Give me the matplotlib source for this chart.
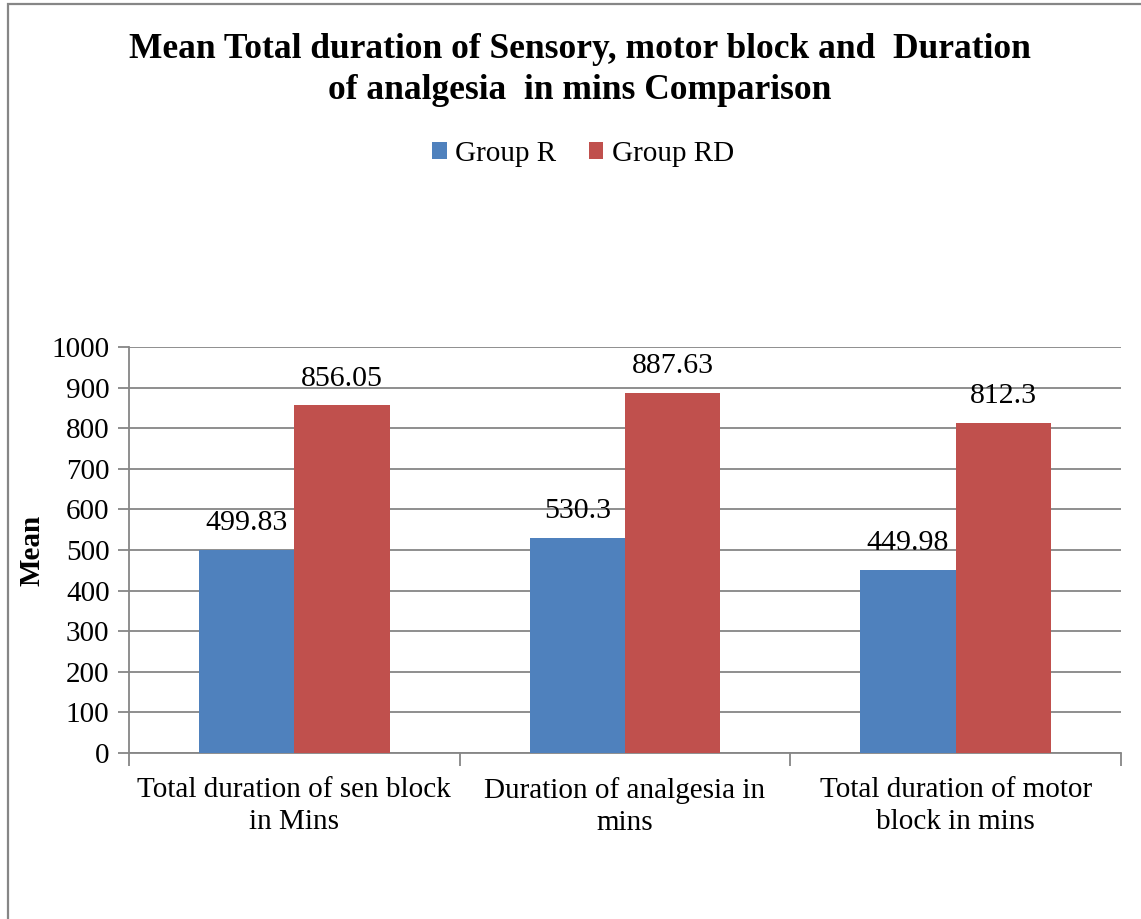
import matplotlib.pyplot as plt
import numpy as np
from matplotlib.patches import Rectangle

categories = ["Total duration of sen block\nin Mins",
              "Duration of analgesia in\nmins",
              "Total duration of motor\nblock in mins"]
group_r = [499.83, 530.3, 449.98]
group_rd = [856.05, 887.63, 812.3]
r_labels = ["499.83", "530.3", "449.98"]
rd_labels = ["856.05", "887.63", "812.3"]

plt.rcParams['font.family'] = ['Liberation Serif', 'DejaVu Serif']

W, H = 1141, 919
fig = plt.figure(figsize=(W / 100, H / 100), dpi=100)
ax = fig.add_axes([129 / W, 1 - 753 / H, (1121 - 129) / W, (753 - 347) / H])

blue = '#4F81BD'
red = '#C0504D'
grey = '#868686'
fs = 21

x = np.arange(len(categories))
bw = 0.288
b1 = ax.bar(x - bw / 2, group_r, bw, color=blue, label='Group R', zorder=3)
b2 = ax.bar(x + bw / 2, group_rd, bw, color=red, label='Group RD', zorder=3)

for bars, labs in ((b1, r_labels), (b2, rd_labels)):
    for b, t in zip(bars, labs):
        ax.annotate(t, (b.get_x() + b.get_width() / 2, b.get_height()),
                    xytext=(0, 10), textcoords='offset points',
                    ha='center', va='bottom', fontsize=fs + 0.5)

ax.set_xlim(-0.5, 2.5)
ax.set_ylim(0, 1000)
ax.set_yticks(range(0, 1001, 100))
ax.yaxis.grid(True, color=grey, linewidth=1.3, zorder=0)
ax.tick_params(axis='y', labelsize=fs, length=8, width=1.3, color=grey, pad=6)

# category ticks sit on the boundaries, labels in the middle
ax.set_xticks([-0.5, 0.5, 1.5, 2.5])
ax.set_xticklabels([])
ax.tick_params(axis='x', length=9, width=1.3, color=grey)
ax.set_xticks(x, minor=True)
ax.set_xticklabels(categories, minor=True, fontsize=fs, linespacing=1.32)
ax.tick_params(axis='x', which='minor', length=0, pad=17)

for side in ('top', 'right'):
    ax.spines[side].set_visible(False)
for side in ('left', 'bottom'):
    ax.spines[side].set_color(grey)
    ax.spines[side].set_linewidth(1.3)

ax.set_ylabel('Mean', fontsize=fs, fontweight='bold', labelpad=4)

fig.text(580 / W, 1 - 70 / H,
         "Mean Total duration of Sensory, motor block and  Duration\n"
         "of analgesia  in mins Comparison",
         ha='center', va='center', fontsize=25.5, fontweight='bold',
         linespacing=1.3)

fig.legend(handles=[b1, b2], loc='center', bbox_to_anchor=(583 / W, 1 - 154 / H),
           ncol=2, frameon=False, fontsize=fs, handlelength=0.5,
           handleheight=0.5, handletextpad=0.3, columnspacing=1.1)

# outer chart frame
fig.patches.append(Rectangle((8 / W, -0.05), 1.2, 1 - 4 / H + 0.05,
                             transform=fig.transFigure, fill=False,
                             edgecolor=grey, linewidth=1.6))

fig.savefig('out.png', dpi=100)
